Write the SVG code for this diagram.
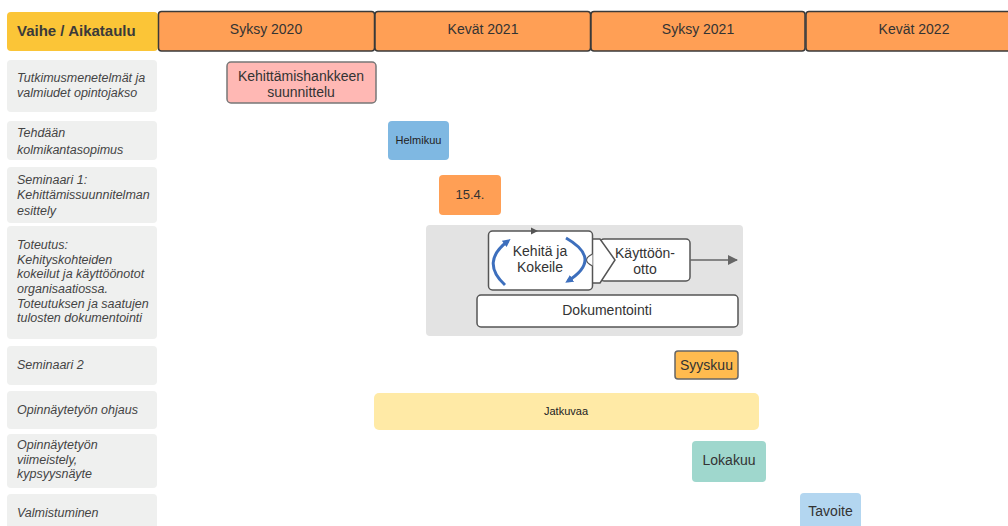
<svg xmlns="http://www.w3.org/2000/svg" width="1008" height="526" viewBox="0 0 1008 526">
<style>
text{font-family:"Liberation Sans",Arial,sans-serif}
.hdr{fill:#ff9f55;stroke:#3a3a3a;stroke-width:1.5}
.ht{font-size:14px;fill:#333;text-anchor:middle}
.lbl{fill:#eff0ef}
.lt{font-size:12.5px;font-style:italic;fill:#444}
.bt{font-size:14px;fill:#333;text-anchor:middle}
.wb{fill:#fff;stroke:#555;stroke-width:1.5}
.blue{fill:none;stroke:#3d6fbd;stroke-width:3}
</style>
<defs>
<marker id="ah" viewBox="0 0 10 10" refX="9" refY="5" markerWidth="10" markerHeight="10" markerUnits="userSpaceOnUse" orient="auto"><path d="M0,0L10,5L0,10z" fill="#666"/></marker>
<marker id="bh" viewBox="0 0 10 10" refX="6" refY="5" markerWidth="8" markerHeight="8" markerUnits="userSpaceOnUse" orient="auto"><path d="M0,0L10,5L0,10z" fill="#3d6fbd"/></marker>
</defs>
<rect width="1008" height="526" fill="#fff"/>
<g id="header">
<rect x="7" y="12" width="151" height="39" rx="4" fill="#fbc537"/>
<text x="17" y="36" font-size="15" font-weight="bold" fill="#3a3a3a">Vaihe / Aikataulu</text>
<rect class="hdr" x="158.5" y="11.5" width="216" height="39.5" rx="3"/>
<text class="ht" x="266" y="34">Syksy 2020</text>
<rect class="hdr" x="375" y="11.5" width="215.5" height="39.5" rx="3"/>
<text class="ht" x="483" y="34">Kevät 2021</text>
<rect class="hdr" x="591" y="11.5" width="214" height="39.5" rx="3"/>
<text class="ht" x="698" y="34">Syksy 2021</text>
<rect class="hdr" x="806" y="11.5" width="210" height="39.5" rx="3"/>
<text class="ht" x="914" y="34">Kevät 2022</text>
</g>
<g id="labels">
<rect class="lbl" x="7" y="60" width="150" height="52" rx="4"/>
<text class="lt" x="17"><tspan x="17" y="82">Tutkimusmenetelmät ja</tspan><tspan x="17" y="97">valmiudet opintojakso</tspan></text>
<rect class="lbl" x="7" y="121" width="150" height="39" rx="4"/>
<text class="lt"><tspan x="17" y="137">Tehdään</tspan><tspan x="17" y="154">kolmikantasopimus</tspan></text>
<rect class="lbl" x="7" y="167" width="150" height="56" rx="4"/>
<text class="lt"><tspan x="17" y="184">Seminaari 1:</tspan><tspan x="17" y="199">Kehittämissuunnitelman</tspan><tspan x="17" y="215">esittely</tspan></text>
<rect class="lbl" x="7" y="226" width="150" height="113" rx="4"/>
<text class="lt"><tspan x="17" y="249">Toteutus:</tspan><tspan x="17" y="264">Kehityskohteiden</tspan><tspan x="17" y="278">kokeilut ja käyttöönotot</tspan><tspan x="17" y="293">organisaatiossa.</tspan><tspan x="17" y="308">Toteutuksen ja saatujen</tspan><tspan x="17" y="322">tulosten dokumentointi</tspan></text>
<rect class="lbl" x="7" y="346" width="150" height="39" rx="4"/>
<text class="lt" x="17" y="369">Seminaari 2</text>
<rect class="lbl" x="7" y="391" width="150" height="38" rx="4"/>
<text class="lt" x="17" y="414">Opinnäytetyön ohjaus</text>
<rect class="lbl" x="7" y="434" width="150" height="54" rx="4"/>
<text class="lt"><tspan x="17" y="449">Opinnäytetyön</tspan><tspan x="17" y="464">viimeistely,</tspan><tspan x="17" y="478">kypsyysnäyte</tspan></text>
<rect class="lbl" x="7" y="494" width="150" height="40" rx="4"/>
<text class="lt" x="17" y="517">Valmistuminen</text>
</g>
<g id="suunnittelu">
<rect x="227" y="62" width="149" height="41" rx="4" fill="#ffb8b4" stroke="#777" stroke-width="1.5"/>
<text class="bt" font-size="14.7"><tspan x="301" y="81">Kehittämishankkeen</tspan><tspan x="301" y="97">suunnittelu</tspan></text>
</g>
<g id="helmikuu">
<rect x="388" y="121" width="61" height="39" rx="4" fill="#7fb8e2"/>
<text x="418.5" y="144" font-size="11" fill="#222" text-anchor="middle">Helmikuu</text>
</g>
<g id="sem1">
<rect x="439" y="175" width="62" height="40" rx="4" fill="#ff9f55"/>
<text x="470" y="199" font-size="13" fill="#333" text-anchor="middle">15.4.</text>
</g>
<g id="toteutus">
<rect x="426" y="225" width="317" height="111" rx="4" fill="#e3e3e3"/>
<rect class="wb" x="600" y="239" width="90" height="42" rx="4"/>
<text class="bt" fill="#444"><tspan x="645" y="258">Käyttöön-</tspan><tspan x="645" y="274">otto</tspan></text>
<path class="wb" d="M590,239 L600,239 L615,260 L600,283 L590,283 Z"/>
<rect class="wb" x="488.5" y="231" width="104" height="59" rx="4"/>
<path d="M592.5,254 q-6,3 -6,6 q0,3 6,6" fill="#fff" stroke="#555" stroke-width="1.2"/>
<path d="M531,227.5 L538,231 L531,234.5 Z" fill="#555"/>
<path class="blue" d="M505,285 Q480,262 508,241" marker-end="url(#bh)"/>
<path class="blue" d="M566,238 Q603,259 568,281" marker-end="url(#bh)"/>
<text class="bt" font-size="13.5" fill="#444"><tspan x="540" y="256">Kehitä ja</tspan><tspan x="540" y="272">Kokeile</tspan></text>
<rect class="wb" x="477" y="295" width="261" height="32" rx="4"/>
<text class="bt" x="607" y="315">Dokumentointi</text>
</g>
<g id="syyskuu">
<rect x="675" y="351" width="63" height="28" rx="3" fill="#ffbb4f" stroke="#666" stroke-width="1.5"/>
<text class="bt" x="706.5" y="370" fill="#444">Syyskuu</text>
</g>
<g id="jatkuvaa">
<rect x="374" y="393" width="385" height="37" rx="5" fill="#ffeaa6"/>
<text x="566" y="415" font-size="11" fill="#222" text-anchor="middle">Jatkuvaa</text>
</g>
<g id="lokakuu">
<rect x="692" y="441" width="74" height="41" rx="4" fill="#9fd7cd"/>
<text class="bt" x="729" y="465">Lokakuu</text>
</g>
<g id="tavoite">
<rect x="800" y="493" width="61" height="40" rx="4" fill="#b3d6f0"/>
<text class="bt" x="830.5" y="516">Tavoite</text>
</g>
<g id="connectors">
<line x1="690" y1="260" x2="737" y2="260" stroke="#666" stroke-width="1.3" marker-end="url(#ah)"/>
</g>
</svg>
